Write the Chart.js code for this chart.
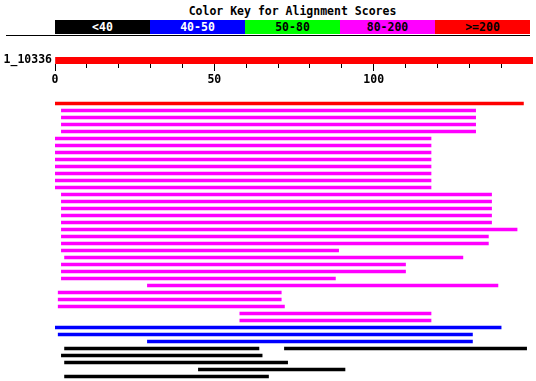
<!DOCTYPE html>
<html>
<head>
<meta charset="utf-8">
<script src="https://cdn.jsdelivr.net/npm/chart.js@4"></script>
<style>
  body { margin: 0; background: #fff; width: 536px; height: 381px; position: relative; overflow: hidden; font-family: "DejaVu Sans Mono", monospace; }
  #title { position: absolute; top: 4px; left: 55px; width: 475px; text-align: center; font-size: 11.5px; font-weight: bold; line-height: 14px; }
  #key { position: absolute; top: 20px; left: 55px; width: 475px; height: 14px; display: flex; }
  #key div { flex: 1; text-align: center; font-size: 11.5px; font-weight: bold; line-height: 14px; }
  #rule { position: absolute; top: 35px; left: 6px; width: 524px; height: 1px; background: #000; }
  canvas { position: absolute; left: 0; }
  #query { top: 50px; }
  #hits { top: 100px; }
</style>
</head>
<body>
<div id="title">Color Key for Alignment Scores</div>
<div id="key"></div>
<div id="rule"></div>
<canvas id="query" width="536" height="40"></canvas>
<canvas id="hits" width="536" height="281"></canvas>
<script>
// score bins of the colour key
const keyLabels = ['<40', '40-50', '50-80', '80-200', '>=200'];
const keyColors = ['#000000', '#0000ff', '#00ff00', '#ff00ff', '#ff0000'];
const keyText = ['#ffffff', '#ffffff', '#000000', '#000000', '#000000'];

// query sequence
const queryName = '1_10336';
const queryLength = 150;
const tickLabels = [0, 50, 100];

// one row per hit: start, end and score bin (index into keyLabels)
const hitStart = [0, 2, 2, 2, 2, 0, 0, 0, 0, 0, 0, 0, 0, 2, 2, 2, 2, 2, 2, 2,
                  2, 2, 3, 2, 2, 2, 29, 1, 1, 1, 58, 58, 0, 1, 29, 3, 2, 3, 45, 3];
const hitEnd = [147, 132, 132, 132, 132, 118, 118, 118, 118, 118, 118, 118, 118, 137, 137, 137, 137, 137, 145, 136,
                136, 89, 128, 110, 110, 88, 139, 71, 71, 72, 118, 118, 140, 131, 131, 64, 65, 73, 91, 67];
const hitBin = [4, 3, 3, 3, 3, 3, 3, 3, 3, 3, 3, 3, 3, 3, 3, 3, 3, 3, 3, 3,
                3, 3, 3, 3, 3, 3, 3, 3, 3, 3, 3, 3, 1, 1, 1, 0, 0, 0, 0, 0];

// second segment of split hits
const extraRow = [35];
const extraStart = [72];
const extraEnd = [148];
const extraBin = [0];

const monoFont = { family: 'DejaVu Sans Mono', size: 11.5, weight: 'bold' };

// colour key boxes
const keyEl = document.getElementById('key');
keyLabels.forEach((label, i) => {
    const box = document.createElement('div');
    box.textContent = label;
    box.style.background = keyColors[i];
    box.style.color = keyText[i];
    keyEl.appendChild(box);
});

// query bar with the position axis
new Chart(document.getElementById('query'), {
    type: 'bar',
    data: {
        labels: [queryName],
        datasets: [{
            data: [[0, queryLength]],
            backgroundColor: keyColors[4],
            barThickness: 7
        }]
    },
    options: {
        indexAxis: 'y',
        responsive: false,
        animation: false,
        layout: { padding: { top: 7, right: 3, left: 0, bottom: 0 } },
        plugins: { legend: { display: false }, tooltip: { enabled: false } },
        scales: {
            x: {
                type: 'linear',
                min: 0,
                max: queryLength,
                afterBuildTicks: scale => { scale.ticks = scale.ticks.filter(t => t.value < queryLength); },
                afterFit: scale => { scale.height = 26; },
                border: { display: false },
                grid: {
                    drawOnChartArea: false,
                    tickLength: 7,
                    color: '#000',
                    tickBorderDash: ctx => (ctx.tick && tickLabels.includes(ctx.tick.value)) ? [] : [4, 20]
                },
                ticks: {
                    stepSize: 10,
                    autoSkip: false,
                    maxRotation: 0,
                    padding: 2,
                    color: '#000',
                    font: monoFont,
                    callback: v => tickLabels.includes(v) ? String(v) : ''
                }
            },
            y: {
                afterFit: scale => { scale.width = 55; },
                grid: { display: false, drawTicks: false },
                border: { display: false },
                ticks: { padding: 3, color: '#000', font: { ...monoFont, lineHeight: 0.5 } }
            }
        }
    }
});

// hit bars
const rowLabels = hitStart.map((_, i) => 'hit ' + (i + 1));
const extraData = rowLabels.map((_, i) => {
    const j = extraRow.indexOf(i);
    return j < 0 ? null : [extraStart[j], extraEnd[j]];
});
const extraColors = rowLabels.map((_, i) => {
    const j = extraRow.indexOf(i);
    return j < 0 ? keyColors[0] : keyColors[extraBin[j]];
});

new Chart(document.getElementById('hits'), {
    type: 'bar',
    data: {
        labels: rowLabels,
        datasets: [{
            data: hitStart.map((s, i) => [s, hitEnd[i]]),
            backgroundColor: hitBin.map(b => keyColors[b])
        }, {
            data: extraData,
            backgroundColor: extraColors
        }]
    },
    options: {
        indexAxis: 'y',
        responsive: false,
        animation: false,
        datasets: { bar: { grouped: false, barThickness: 3 } },
        layout: { padding: { top: 0, right: 3, left: 55, bottom: 1 } },
        plugins: { legend: { display: false }, tooltip: { enabled: false } },
        scales: {
            x: { type: 'linear', min: 0, max: queryLength, display: false },
            y: { display: false }
        }
    }
});
</script>
</body>
</html>
